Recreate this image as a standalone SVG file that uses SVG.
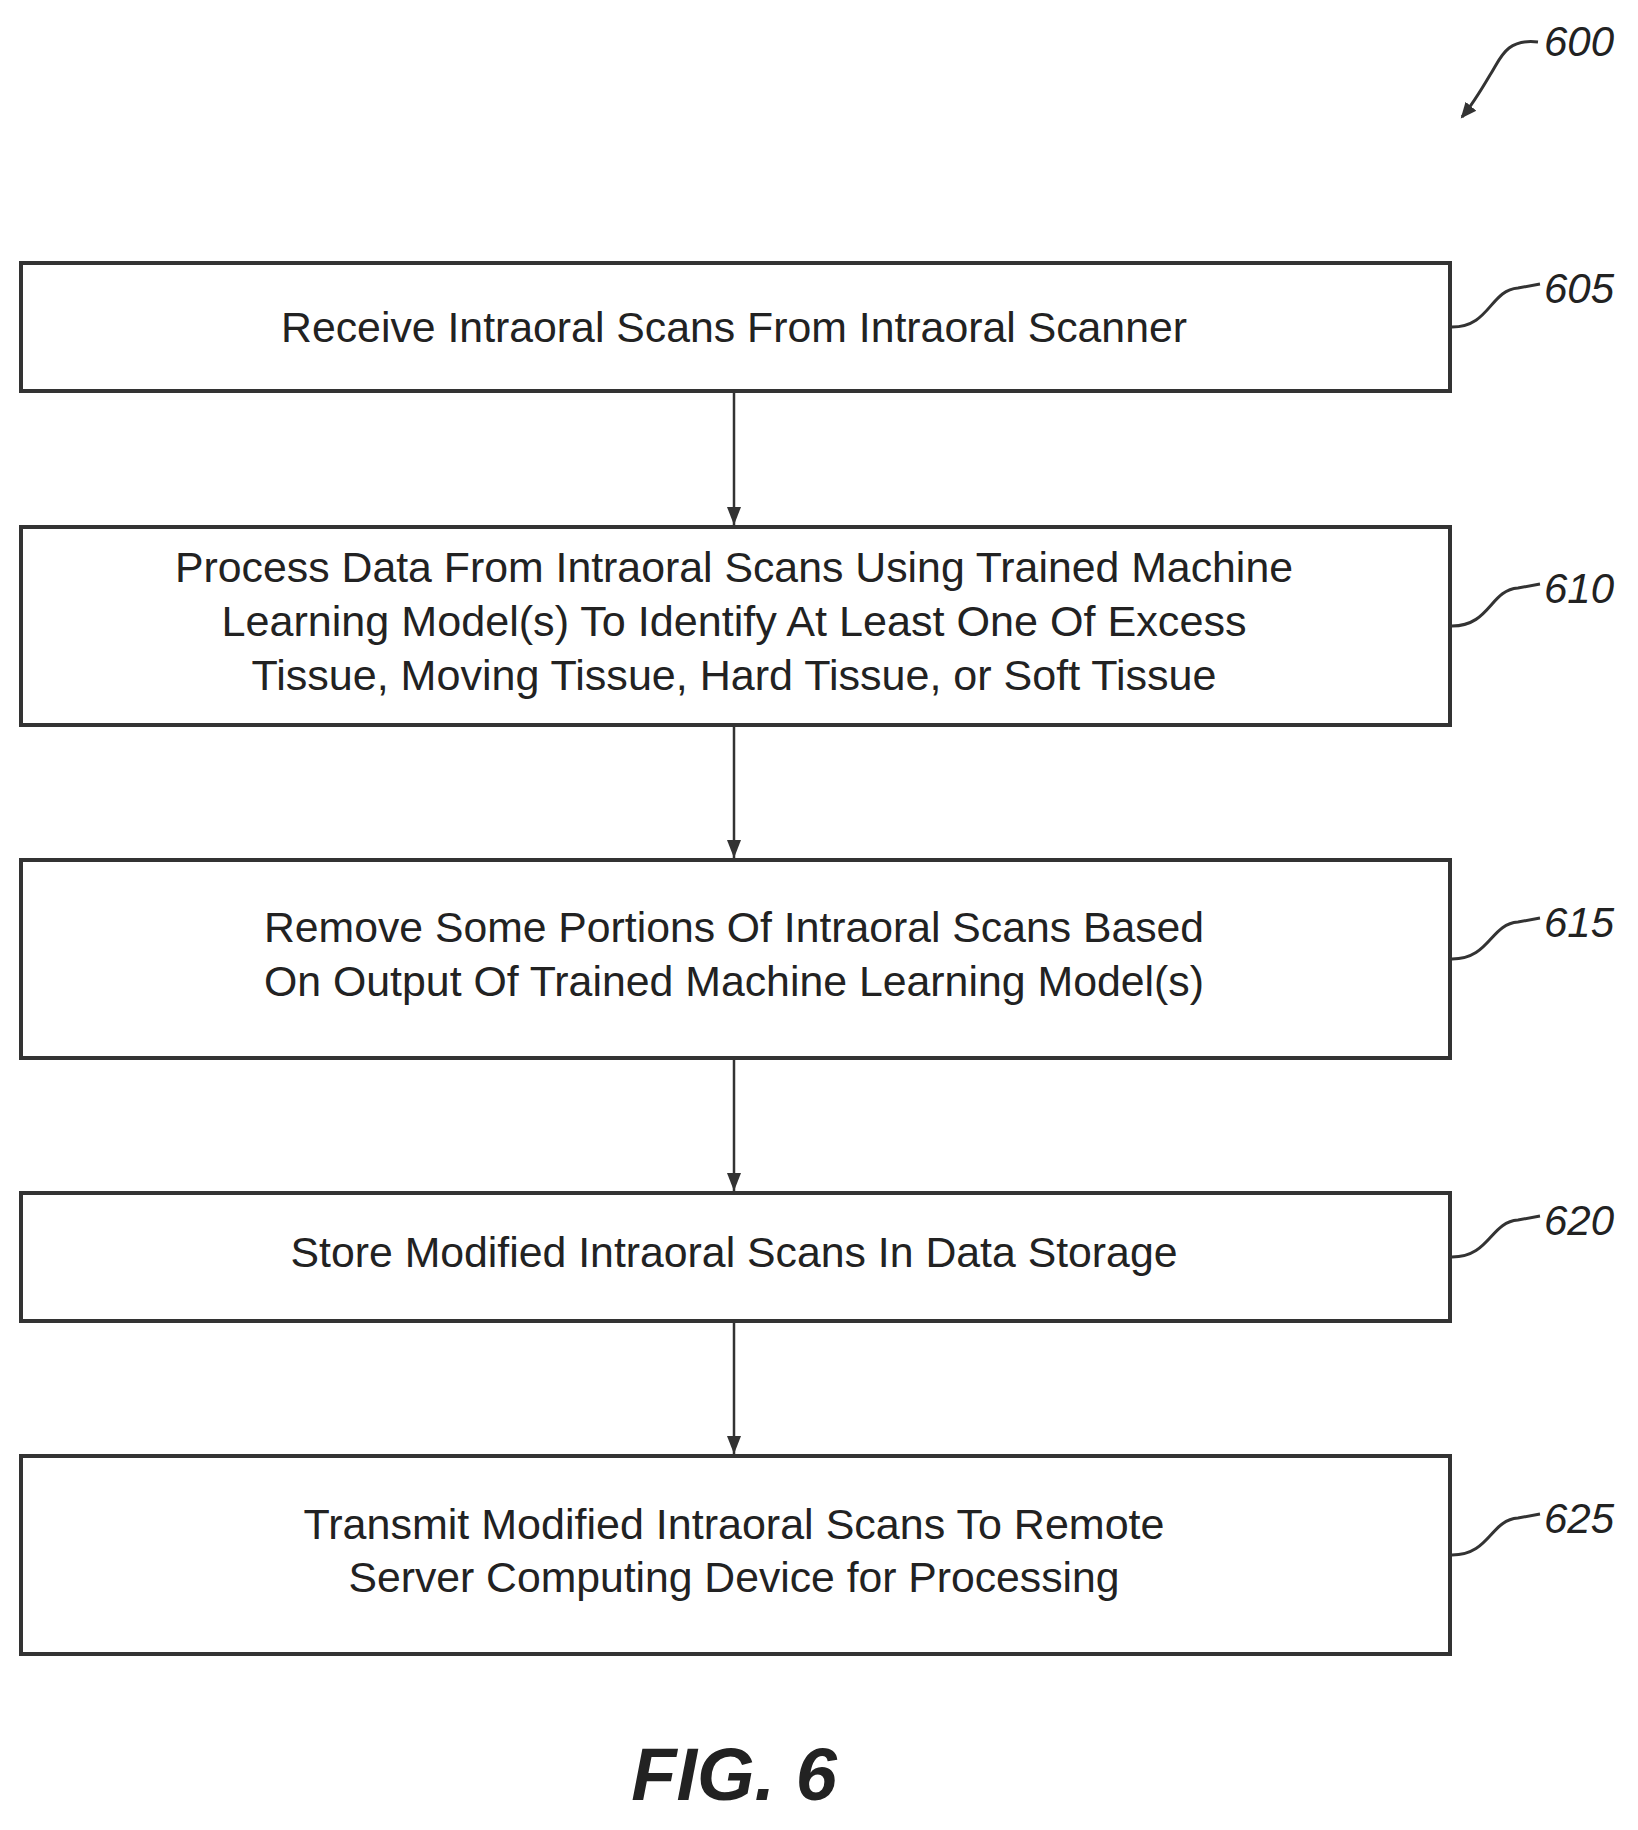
<svg xmlns="http://www.w3.org/2000/svg" width="1638" height="1830" viewBox="0 0 1638 1830">
<defs>
<style>
.box{fill:#fff;stroke:#333;stroke-width:4}
.t{font-family:"Liberation Sans",Arial,sans-serif;font-size:42px;fill:#222;text-anchor:middle}
.lab{font-family:"Liberation Sans",Arial,sans-serif;font-size:42px;font-style:italic;fill:#222}
.ld{fill:none;stroke:#333;stroke-width:3}
.c{stroke:#333;stroke-width:2.5;fill:none}
</style>
<marker id="ah" markerWidth="18" markerHeight="14" refX="18" refY="7" orient="auto" markerUnits="userSpaceOnUse" viewBox="0 0 18 14">
<path d="M0,0 L18,7 L0,14 Z" fill="#333"/>
</marker>
<marker id="ah2" markerWidth="18" markerHeight="18" refX="14" refY="9" orient="auto" markerUnits="userSpaceOnUse" viewBox="0 0 18 18">
<path d="M0,2 L16,9 L0,16 Z" fill="#333"/>
</marker>
</defs>
<rect width="1638" height="1830" fill="#fff"/>
<g id="ref600">
<text class="lab" x="1544" y="56">600</text>
<path class="ld" d="M1538,42 C1505,38 1500,60 1490,75 C1480,92 1472,105 1462,117" marker-end="url(#ah2)"/>
</g>
<g id="connectors">
<line class="c" x1="734" y1="393" x2="734" y2="525" marker-end="url(#ah)"/>
<line class="c" x1="734" y1="727" x2="734" y2="858" marker-end="url(#ah)"/>
<line class="c" x1="734" y1="1060" x2="734" y2="1191" marker-end="url(#ah)"/>
<line class="c" x1="734" y1="1323" x2="734" y2="1454" marker-end="url(#ah)"/>
</g>
<g id="n605">
<rect class="box" x="21" y="263" width="1429" height="128"/>
<text class="t" x="734" y="342" textLength="906" lengthAdjust="spacingAndGlyphs">Receive Intraoral Scans From Intraoral Scanner</text>
<path class="ld" d="M1452,327 C1490,327 1490,290 1518,288 L1540,284"/>
<text class="lab" x="1544" y="303">605</text>
</g>
<g id="n610">
<rect class="box" x="21" y="527" width="1429" height="198"/>
<text class="t" x="734" y="582" textLength="1118" lengthAdjust="spacingAndGlyphs">Process Data From Intraoral Scans Using Trained Machine</text>
<text class="t" x="734" y="636" textLength="1025" lengthAdjust="spacingAndGlyphs">Learning Model(s) To Identify At Least One Of Excess</text>
<text class="t" x="734" y="690" textLength="965" lengthAdjust="spacingAndGlyphs">Tissue, Moving Tissue, Hard Tissue, or Soft Tissue</text>
<path class="ld" d="M1452,626 C1490,626 1490,590 1518,588 L1540,584"/>
<text class="lab" x="1544" y="603">610</text>
</g>
<g id="n615">
<rect class="box" x="21" y="860" width="1429" height="198"/>
<text class="t" x="734" y="942" textLength="940" lengthAdjust="spacingAndGlyphs">Remove Some Portions Of Intraoral Scans Based</text>
<text class="t" x="734" y="996" textLength="940" lengthAdjust="spacingAndGlyphs">On Output Of Trained Machine Learning Model(s)</text>
<path class="ld" d="M1452,959 C1490,959 1490,924 1518,922 L1540,918"/>
<text class="lab" x="1544" y="937">615</text>
</g>
<g id="n620">
<rect class="box" x="21" y="1193" width="1429" height="128"/>
<text class="t" x="734" y="1267" textLength="887" lengthAdjust="spacingAndGlyphs">Store Modified Intraoral Scans In Data Storage</text>
<path class="ld" d="M1452,1257 C1490,1257 1490,1222 1518,1220 L1540,1216"/>
<text class="lab" x="1544" y="1235">620</text>
</g>
<g id="n625">
<rect class="box" x="21" y="1456" width="1429" height="198"/>
<text class="t" x="734" y="1539" textLength="861" lengthAdjust="spacingAndGlyphs">Transmit Modified Intraoral Scans To Remote</text>
<text class="t" x="734" y="1592" textLength="771" lengthAdjust="spacingAndGlyphs">Server Computing Device for Processing</text>
<path class="ld" d="M1452,1555 C1490,1555 1490,1520 1518,1518 L1540,1514"/>
<text class="lab" x="1544" y="1533">625</text>
</g>
<text x="734" y="1800" font-family="Liberation Sans,Arial,sans-serif" font-size="74" font-weight="bold" font-style="italic" text-anchor="middle" fill="#222">FIG. 6</text>
</svg>
